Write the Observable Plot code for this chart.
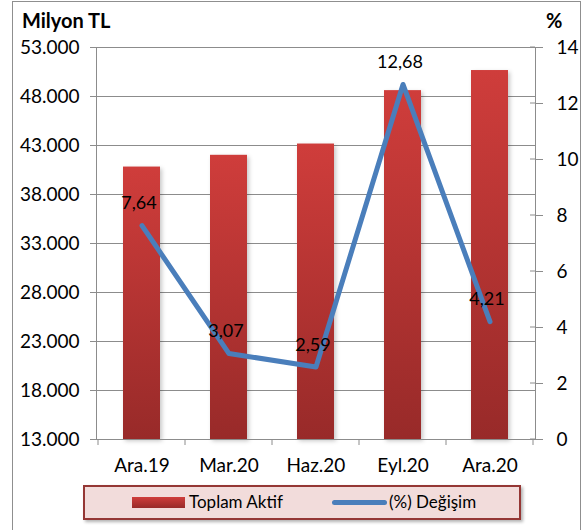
<!DOCTYPE html>
<html>
<head>
<meta charset="utf-8">
<script src="https://cdn.jsdelivr.net/npm/d3@7"></script>
<script src="https://cdn.jsdelivr.net/npm/@observablehq/plot@0.6"></script>
<style>
  html, body { margin: 0; padding: 0; background: #fff; }
  body { width: 583px; height: 530px; overflow: hidden; font-family: Lato, "Open Sans", sans-serif; }
  #wrap { position: relative; width: 583px; height: 530px; }
  #border { position: absolute; left: 12px; top: 1px; width: 569px; height: 600px; border: 1.5px solid #8f8f8f; box-sizing: border-box; }
  #chart { position: absolute; left: 0; top: 0; }
  .title { position: absolute; top: 10px; font-weight: bold; font-size: 20px; line-height: 20px; color: #000; }
  #legend { position: absolute; left: 83px; top: 485px; width: 438px; height: 35px; box-sizing: border-box;
            border: 2.5px solid #953735; background: #f2dcdb; box-shadow: 2px 2px 3px rgba(0,0,0,0.3); }
  #legend .sw-bar { position: absolute; left: 47px; top: 10px; width: 53px; height: 11px;
            background: linear-gradient(#cf3d3b, #982a29); }
  #legend .sw-line { position: absolute; left: 247px; top: 13px; width: 55px; height: 5px; border-radius: 3px; background: #4a7ebb; }
  #legend .lbl { position: absolute; top: 5px; font-size: 17px; line-height: 20px; color: #000; }
  svg g[aria-label="bar"] rect { filter: drop-shadow(2px 2px 2px rgba(0,0,0,0.22)); }
</style>
</head>
<body>
<div id="wrap">
  <div id="border"></div>
  <div id="chart"></div>
  <div class="title" style="left:22px">Milyon TL</div>
  <div class="title" style="left:546px">%</div>
  <div id="legend">
    <span class="sw-bar"></span><span class="lbl" style="left:104px">Toplam Aktif</span>
    <span class="sw-line"></span><span class="lbl" style="left:304px">(%) Değişim</span>
  </div>
</div>
<script>
const categories = ["Ara.19", "Mar.20", "Haz.20", "Eyl.20", "Ara.20"];
const toplamAktif = [40800, 42000, 43150, 48600, 50650];
const degisim = [7.64, 3.07, 2.59, 12.68, 4.21];
const leftTicks = [13000, 18000, 23000, 28000, 33000, 38000, 43000, 48000, 53000];
const rightTicks = [0, 2, 4, 6, 8, 10, 12, 14];

const yMin = leftTicks[0], yMax = leftTicks[leftTicks.length - 1];
const pMax = rightTicks[rightTicks.length - 1];
const pctToY = p => yMin + p / pMax * (yMax - yMin);
const yToPct = y => (y - yMin) / (yMax - yMin) * pMax;

const data = categories.map((c, i) => ({cat: c, value: toplamAktif[i], pct: degisim[i]}));
const fmtThousands = d => d3.format(",.0f")(d).replace(/,/g, ".");
const fmtPct = d => d3.format(".2f")(d).replace(".", ",");

const defs = () => {
  const el = d3.create("svg:defs");
  const g = el.append("linearGradient").attr("id", "barGrad")
    .attr("x1", 0).attr("y1", 0).attr("x2", 0).attr("y2", 1);
  g.append("stop").attr("offset", "0%").attr("stop-color", "#cf3d3b");
  g.append("stop").attr("offset", "100%").attr("stop-color", "#982a29");
  return el.node();
};

const PAD_INNER = 0.58;
const extraTicks = (index, scales, values, dims) => {
  const x = scales.x, y = scales.y;
  const bw = x.bandwidth();
  const step = x.step ? x.step() : bw / (1 - PAD_INNER);
  const g = d3.create("svg:g").attr("stroke", "#8c8c8c").attr("stroke-width", 1);
  const y0 = dims.height - dims.marginBottom;
  const edges = categories.map(c => x(c) - (step - bw) / 2);
  edges.push(x(categories[categories.length - 1]) + bw + (step - bw) / 2);
  edges.forEach(e => g.append("line").attr("x1", e).attr("x2", e).attr("y1", y0).attr("y2", y0 + 6));
  const xr = dims.width - dims.marginRight;
  rightTicks.forEach(p => {
    const yy = y(pctToY(p));
    g.append("line").attr("x1", xr - 5).attr("x2", xr).attr("y1", yy).attr("y2", yy);
  });
  return g.node();
};

const chart = Plot.plot({
  width: 583,
  height: 475,
  marginLeft: 96,
  marginRight: 48,
  marginTop: 47,
  marginBottom: 36,
  style: {fontFamily: "Lato, 'Open Sans', sans-serif", fontSize: "19px", color: "#000", background: "transparent", overflow: "visible"},
  x: {domain: categories, paddingInner: PAD_INNER, paddingOuter: PAD_INNER / 2, label: null},
  y: {domain: [yMin, yMax], label: null},
  marks: [
    defs,
    Plot.gridY(leftTicks, {stroke: "#8c8c8c", strokeOpacity: 1}),
    Plot.barY(data, {x: "cat", y1: yMin, y2: "value", fill: "url(#barGrad)"}),
    Plot.frame({stroke: "#8c8c8c"}),
    Plot.axisY({ticks: leftTicks, tickFormat: fmtThousands, tickSize: 6, tickPadding: 11, stroke: "#8c8c8c", label: null, fill: "#000"}),
    Plot.axisY({anchor: "right", ticks: rightTicks.map(pctToY), tickFormat: d => String(Math.round(yToPct(d))), tickSize: 7, tickPadding: 14, stroke: "#8c8c8c", label: null, fill: "#000"}),
    Plot.axisX({tickSize: 0, tickPadding: 19, label: null, fill: "#000"}),
    extraTicks,
    Plot.line(data, {x: "cat", y: d => pctToY(d.pct), stroke: "#4a7ebb", strokeWidth: 5, strokeLinejoin: "round", strokeLinecap: "round"}),
    Plot.text(data, {x: "cat", y: d => pctToY(d.pct), text: d => fmtPct(d.pct), dy: -22, dx: -3, fontSize: 18, fill: "#000"})
  ]
});
document.getElementById("chart").appendChild(chart);
</script>
</body>
</html>
